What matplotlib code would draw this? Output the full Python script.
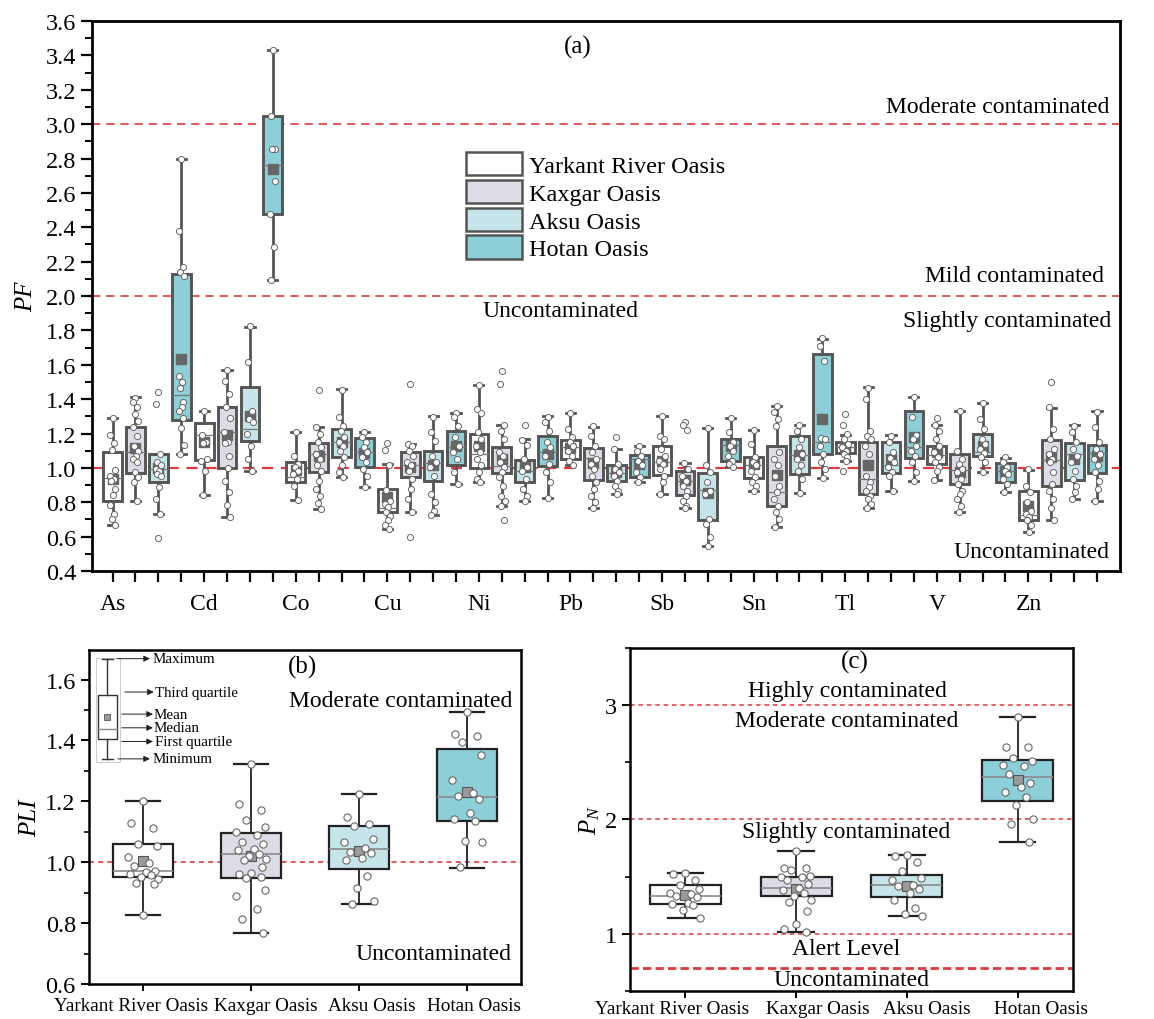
import matplotlib
matplotlib.use("Agg")
import matplotlib.pyplot as plt
import matplotlib.transforms as mtransforms
from matplotlib.patches import Patch, Rectangle
from matplotlib.ticker import MultipleLocator, FormatStrFormatter

plt.rcParams['font.family'] = ['Liberation Serif', 'DejaVu Serif']
plt.rcParams['mathtext.fontset'] = 'custom'
plt.rcParams['mathtext.it'] = 'Liberation Serif:italic'
plt.rcParams['mathtext.rm'] = 'Liberation Serif'

# ---------------- data ----------------
oases = ["Yarkant River Oasis", "Kaxgar Oasis", "Aksu Oasis", "Hotan Oasis"]
colors = ["#ffffff", "#dcdce6", "#c6e5ea", "#8dcfd8"]
elements = ["As", "Cd", "Co", "Cu", "Ni", "Pb", "Sb", "Sn", "Tl", "V", "Zn"]

# PF box statistics (44 boxes: element x oasis, in plotted order)
pf_whi = [1.29, 1.41, 1.08, 2.80, 1.33, 1.57, 1.82, 3.43,
          1.21, 1.24, 1.46, 1.21, 1.02, 1.14, 1.30, 1.32,
          1.48, 1.25, 1.17, 1.30, 1.32, 1.24, 1.11, 1.13,
          1.30, 1.03, 1.23, 1.29, 1.22, 1.36, 1.25, 1.75,
          1.19, 1.47, 1.19, 1.41, 1.25, 1.33, 1.38, 1.06,
          0.99, 1.35, 1.25, 1.33]
pf_q3 = [1.095, 1.24, 1.078, 2.13, 1.26, 1.357, 1.473, 3.05,
         1.037, 1.145, 1.227, 1.173, 0.876, 1.095, 1.10, 1.215,
         1.198, 1.124, 1.047, 1.184, 1.165, 1.114, 1.014, 1.076,
         1.13, 0.981, 0.973, 1.169, 1.062, 1.13, 1.188, 1.663,
         1.153, 1.149, 1.149, 1.33, 1.13, 1.078, 1.198, 1.029,
         0.864, 1.163, 1.145, 1.134]
pf_med = [0.94, 1.091, 0.994, 1.427, 1.19, 1.21, 1.227, 2.764,
          0.946, 1.081, 1.149, 1.095, 0.765, 1.014, 1.029, 1.12,
          1.078, 1.01, 0.984, 1.09, 1.12, 1.056, 0.971, 1.052,
          1.033, 0.926, 0.874, 1.136, 1.017, 0.862, 1.076, 1.149,
          1.12, 0.936, 1.019, 1.12, 1.075, 0.99, 1.09, 0.984,
          0.727, 1.048, 1.078, 1.087]
pf_q1 = [0.806, 0.973, 0.92, 1.279, 1.048, 1.0, 1.159, 2.477,
         0.917, 0.975, 1.062, 1.008, 0.746, 0.946, 0.926, 1.017,
         0.998, 0.971, 0.917, 1.01, 1.052, 0.932, 0.926, 0.946,
         0.959, 0.843, 0.697, 1.039, 0.942, 0.781, 0.965, 1.081,
         1.085, 0.849, 0.969, 1.058, 1.023, 0.907, 1.068, 0.92,
         0.699, 0.897, 0.932, 0.971]
pf_wlo = [0.665, 0.81, 0.729, 1.078, 0.843, 0.713, 0.983, 2.095,
          0.814, 0.761, 0.946, 0.891, 0.645, 0.742, 0.727, 0.907,
          0.92, 0.777, 0.81, 0.824, 1.019, 0.765, 0.849, 0.92,
          0.849, 0.765, 0.548, 1.008, 0.868, 0.659, 0.853, 0.942,
          1.043, 0.765, 0.864, 0.926, 0.932, 0.742, 0.979, 0.862,
          0.626, 0.697, 0.82, 0.806]
pf_mean = [0.936, 1.116, 1.0, 1.634, 1.153, 1.19, 1.30, 2.739,
           0.99, 1.072, 1.153, 1.087, 0.829, 1.004, 1.017, 1.13,
           1.126, 1.052, 1.004, 1.078, 1.114, 1.029, 0.979, 1.023,
           1.039, 0.93, 0.853, 1.126, 1.023, 0.961, 1.076, 1.285,
           1.12, 1.014, 1.052, 1.182, 1.091, 0.975, 1.13, 0.984,
           0.781, 1.062, 1.052, 1.068]

# PF sample points, one list per element (4 oases each)
pts_As = [[1.29, 1.19, 1.145, 1.107, 0.985, 0.955, 0.936, 0.926, 0.88, 0.84, 0.785, 0.73, 0.70, 0.665],
          [1.407, 1.382, 1.353, 1.314, 1.275, 1.237, 1.184, 1.13, 1.101, 1.072, 1.052, 1.033, 0.975, 0.946, 0.917, 0.81],
          [1.44, 1.372, 1.078, 1.033, 1.014, 0.994, 0.984, 0.965, 0.955, 0.888, 0.82, 0.729, 0.593],
          [2.797, 2.378, 2.168, 2.14, 2.116, 1.537, 1.498, 1.465, 1.386, 1.357, 1.33, 1.289, 1.231, 1.134, 1.078]]
pts_Cd = [[1.33, 1.192, 1.153, 1.145, 1.052, 1.043, 0.981, 0.843],
          [1.572, 1.504, 1.429, 1.357, 1.289, 1.211, 1.149, 1.145, 1.072, 1.0, 0.926, 0.862, 0.787, 0.713],
          [1.824, 1.615, 1.333, 1.285, 1.266, 1.198, 1.13, 1.052, 0.983],
          [3.431, 3.049, 2.856, 2.856, 2.668, 2.477, 2.287, 2.095]]
pts_Co = [[1.211, 1.072, 1.023, 1.004, 0.984, 0.965, 0.936, 0.897, 0.814],
          [1.456, 1.24, 1.198, 1.149, 1.12, 1.081, 1.052, 1.017, 0.984, 0.926, 0.878, 0.839, 0.796, 0.761],
          [1.456, 1.295, 1.246, 1.217, 1.178, 1.149, 1.13, 1.101, 1.062, 1.014, 0.979, 0.946],
          [1.207, 1.178, 1.149, 1.12, 1.091, 1.062, 1.033, 0.994, 0.955, 0.891]]
pts_Cu = [[1.143, 1.107, 1.019, 0.87, 0.81, 0.791, 0.77, 0.742, 0.719, 0.694, 0.665, 0.645],
          [1.491, 1.138, 1.13, 1.101, 1.072, 1.033, 1.014, 0.984, 0.936, 0.878, 0.82, 0.742, 0.597],
          [1.299, 1.207, 1.159, 1.072, 1.033, 1.004, 0.955, 0.849, 0.80, 0.752, 0.727],
          [1.32, 1.295, 1.246, 1.178, 1.13, 1.091, 1.052, 0.979, 0.907]]
pts_Ni = [[1.483, 1.343, 1.32, 1.207, 1.169, 1.13, 1.091, 1.052, 1.014, 0.975, 0.936, 0.92],
          [1.562, 1.489, 1.25, 1.217, 1.169, 1.091, 1.072, 1.033, 1.004, 0.975, 0.946, 0.897, 0.839, 0.81, 0.777, 0.698],
          [1.252, 1.165, 1.136, 1.052, 1.004, 0.984, 0.936, 0.878, 0.839, 0.81],
          [1.295, 1.266, 1.217, 1.149, 1.12, 1.072, 1.023, 0.975, 0.917, 0.824]]
pts_Pb = [[1.318, 1.227, 1.178, 1.149, 1.13, 1.101, 1.072, 1.043, 1.019],
          [1.242, 1.188, 1.13, 1.091, 1.052, 1.023, 0.994, 0.955, 0.917, 0.878, 0.839, 0.80, 0.765],
          [1.178, 1.11, 1.023, 0.994, 0.975, 0.955, 0.926, 0.897, 0.868, 0.849],
          [1.13, 1.101, 1.072, 1.043, 1.014, 0.975, 0.946, 0.92]]
pts_Sb = [[1.304, 1.188, 1.169, 1.111, 1.072, 1.043, 1.023, 0.994, 0.955, 0.917, 0.849],
          [1.266, 1.25, 1.221, 1.029, 0.994, 0.955, 0.926, 0.897, 0.868, 0.839, 0.81, 0.781, 0.765],
          [1.233, 1.019, 0.975, 0.917, 0.868, 0.849, 0.703, 0.674, 0.597, 0.548],
          [1.293, 1.207, 1.149, 1.13, 1.101, 1.072, 1.043, 1.023, 1.008]]
pts_Sn = [[1.221, 1.14, 1.062, 1.033, 1.014, 0.984, 0.946, 0.917, 0.893, 0.868],
          [1.363, 1.324, 1.285, 1.246, 1.091, 1.052, 1.014, 0.955, 0.897, 0.858, 0.82, 0.781, 0.742, 0.703, 0.659],
          [1.252, 1.217, 1.169, 1.12, 1.081, 1.052, 1.014, 0.984, 0.936, 0.853],
          [1.754, 1.711, 1.62, 1.173, 1.169, 1.13, 1.081, 1.033, 0.994, 0.942]]
pts_Tl = [[1.314, 1.25, 1.198, 1.169, 1.14, 1.12, 1.101, 1.081, 1.062, 1.043, 0.984],
          [1.465, 1.401, 1.217, 1.188, 1.169, 1.13, 1.081, 0.955, 0.917, 0.888, 0.868, 0.839, 0.82, 0.791, 0.765],
          [1.188, 1.149, 1.091, 1.056, 1.033, 1.004, 0.975, 0.955, 0.864],
          [1.411, 1.295, 1.192, 1.169, 1.13, 1.101, 1.072, 1.033, 0.975, 0.926]]
pts_V = [[1.289, 1.252, 1.217, 1.169, 1.13, 1.091, 1.062, 1.033, 1.004, 0.984, 0.932],
         [1.33, 1.101, 1.052, 1.023, 0.994, 0.975, 0.936, 0.907, 0.868, 0.849, 0.82, 0.781, 0.742],
         [1.376, 1.285, 1.227, 1.169, 1.14, 1.111, 1.087, 1.062, 1.033, 0.979],
         [1.062, 1.033, 1.004, 0.984, 0.965, 0.936, 0.907, 0.862]]
pts_Zn = [[0.994, 0.897, 0.858, 0.80, 0.752, 0.732, 0.713, 0.694, 0.665, 0.626],
          [1.502, 1.353, 1.227, 1.169, 1.111, 1.081, 1.052, 1.033, 0.975, 0.907, 0.868, 0.82, 0.765, 0.697],
          [1.246, 1.207, 1.149, 1.111, 1.072, 1.033, 0.984, 0.936, 0.897, 0.858, 0.82],
          [1.328, 1.237, 1.149, 1.111, 1.081, 1.052, 1.014, 0.975, 0.926, 0.878, 0.806]]
pf_points = [pts_As, pts_Cd, pts_Co, pts_Cu, pts_Ni, pts_Pb, pts_Sb, pts_Sn, pts_Tl, pts_V, pts_Zn]

# PLI (panel b)
pli_whi = [1.202, 1.322, 1.223, 1.492]
pli_q3 = [1.06, 1.097, 1.118, 1.373]
pli_med = [0.971, 1.028, 1.042, 1.214]
pli_q1 = [0.95, 0.947, 0.979, 1.135]
pli_wlo = [0.828, 0.767, 0.863, 0.982]
pli_mean = [1.003, 1.02, 1.037, 1.232]
pli_pts_yarkant = [1.202, 1.128, 1.111, 1.06, 1.054, 1.017, 0.999, 0.987, 0.97, 0.968, 0.962, 0.957, 0.952, 0.945, 0.933, 0.93, 0.828]
pli_pts_kaxgar = [1.322, 1.19, 1.172, 1.14, 1.115, 1.10, 1.09, 1.065, 1.06, 1.045, 1.04, 1.028, 1.02, 1.01, 1.006,
                  0.985, 0.963, 0.962, 0.952, 0.948, 0.908, 0.889, 0.846, 0.812, 0.767]
pli_pts_aksu = [1.223, 1.148, 1.125, 1.12, 1.077, 1.067, 1.047, 1.035, 1.03, 1.015, 1.007, 0.954, 0.914, 0.872, 0.863]
pli_pts_hotan = [1.492, 1.422, 1.415, 1.395, 1.353, 1.27, 1.227, 1.218, 1.208, 1.163, 1.143, 1.134, 1.07, 1.067, 0.985]

# PN (panel c)
pn_whi = [1.532, 1.725, 1.688, 2.90]
pn_q3 = [1.428, 1.50, 1.512, 2.52]
pn_med = [1.327, 1.40, 1.425, 2.373]
pn_q1 = [1.263, 1.327, 1.32, 2.162]
pn_wlo = [1.142, 1.02, 1.159, 1.80]
pn_mean = [1.34, 1.39, 1.42, 2.344]
pn_pts_yarkant = [1.53, 1.52, 1.47, 1.43, 1.39, 1.36, 1.35, 1.33, 1.32, 1.27, 1.26, 1.25, 1.21, 1.14]
pn_pts_kaxgar = [1.725, 1.578, 1.572, 1.557, 1.508, 1.50, 1.495, 1.47, 1.437, 1.399, 1.379, 1.358, 1.332,
                 1.298, 1.28, 1.20, 1.09, 1.046, 1.02]
pn_pts_aksu = [1.688, 1.682, 1.627, 1.549, 1.488, 1.474, 1.428, 1.42, 1.393, 1.358, 1.292, 1.225, 1.17, 1.16]
pn_pts_hotan = [2.90, 2.63, 2.63, 2.54, 2.51, 2.48, 2.47, 2.396, 2.318, 2.28, 2.24, 2.197, 2.13, 2.0, 1.96, 1.80]

# ---------------- figure ----------------
fig = plt.figure(figsize=(11.54, 10.2), dpi=100)
ax_a = fig.add_axes([0.0797, 0.4392, 0.8908, 0.5392])
ax_b = fig.add_axes([0.0771, 0.0343, 0.3744, 0.3275])
ax_c = fig.add_axes([0.5459, 0.0275, 0.3839, 0.3362])

red = "#e0393b"
jit = [0.0, -0.12, 0.10, -0.05, 0.14, -0.15, 0.06, -0.09, 0.12, 0.03, -0.13, 0.08, -0.02, 0.15, -0.07, 0.11]


def make_stats(wlo, q1, med, q3, whi, mean):
    return [dict(whislo=a, q1=b, med=c, q3=d, whishi=e, mean=f, fliers=[])
            for a, b, c, d, e, f in zip(wlo, q1, med, q3, whi, mean)]


# ---------- panel (a) ----------
stats_a = make_stats(pf_wlo, pf_q1, pf_med, pf_q3, pf_whi, pf_mean)
pos_a = list(range(1, len(stats_a) + 1))
edge_a = "#555555"
bp = ax_a.bxp(stats_a, positions=pos_a, widths=0.82, patch_artist=True, showmeans=True,
              showfliers=False, capwidths=0.4,
              boxprops=dict(edgecolor=edge_a, linewidth=2.1),
              whiskerprops=dict(color=edge_a, linewidth=2.0),
              capprops=dict(color=edge_a, linewidth=2.0),
              medianprops=dict(color="#777777", linewidth=0.9),
              meanprops=dict(marker="s", markerfacecolor="#666666", markeredgecolor="#666666",
                             markersize=7.5))
for i, b in enumerate(bp["boxes"]):
    b.set_facecolor(colors[i % 4])
    b.set_zorder(2)

ax_a.axhline(1.0, color=red, ls=(0, (5, 3.5)), lw=1.6, zorder=1.5)
ax_a.axhline(2.0, color=red, ls=(0, (5, 3.5)), lw=1.2, zorder=1)
ax_a.axhline(3.0, color=red, ls=(0, (5, 3.5)), lw=1.2, zorder=1)

for e_idx, el_pts in enumerate(pf_points):
    for o_idx, vals in enumerate(el_pts):
        p = pos_a[e_idx * 4 + o_idx]
        xs = [p + jit[j % len(jit)] * 0.8 for j in range(len(vals))]
        ax_a.plot(xs, vals, ls="none", marker="o", markersize=4.4, markerfacecolor="white",
                  markeredgecolor="#666666", markeredgewidth=0.7, zorder=4)

ax_a.set_xlim(0.1, 45.0)
ax_a.set_ylim(0.4, 3.6)
xlabels = []
for el in elements:
    xlabels += [el, "", "", ""]
ax_a.set_xticks(pos_a)
ax_a.set_xticklabels(xlabels, fontsize=17)
ax_a.yaxis.set_major_locator(MultipleLocator(0.2))
ax_a.yaxis.set_minor_locator(MultipleLocator(0.1))
ax_a.yaxis.set_major_formatter(FormatStrFormatter("%.1f"))
ax_a.tick_params(axis="y", which="major", labelsize=17.5, length=8, width=1.6, direction="out")
ax_a.tick_params(axis="y", which="minor", length=5, width=1.4, direction="out")
ax_a.tick_params(axis="x", which="major", length=8, width=1.6, direction="out", pad=8)
for s in ax_a.spines.values():
    s.set_linewidth(2.0)
ax_a.set_ylabel("PF", fontsize=18, fontstyle="italic", labelpad=6)

ta = mtransforms.blended_transform_factory(ax_a.transAxes, ax_a.transData)
ax_a.text(0.473, 3.455, "(a)", transform=ta, ha="center", va="center", fontsize=18)
ax_a.text(0.990, 3.105, "Moderate contaminated", transform=ta, ha="right", va="center", fontsize=17)
ax_a.text(0.984, 2.117, "Mild contaminated", transform=ta, ha="right", va="center", fontsize=17)
ax_a.text(0.456, 1.913, "Uncontaminated", transform=ta, ha="center", va="center", fontsize=17)
ax_a.text(0.992, 1.855, "Slightly contaminated", transform=ta, ha="right", va="center", fontsize=17)
ax_a.text(0.990, 0.511, "Uncontaminated", transform=ta, ha="right", va="center", fontsize=17)

handles = [Patch(facecolor=c, edgecolor="#555555", linewidth=1.8) for c in colors]
ax_a.legend(handles, oases, loc="upper left", bbox_to_anchor=(0.364, 0.762), frameon=False,
            fontsize=17.5, handlelength=2.3, handleheight=1.1, labelspacing=0.12,
            handletextpad=0.3, borderpad=0, borderaxespad=0)


# ---------- panel (b) & (c) helper ----------
def small_panel(ax, wlo, q1, med, q3, whi, mean, pts, width, label_shift_px, label_drop_in):
    st = make_stats(wlo, q1, med, q3, whi, mean)
    pos = list(range(1, len(st) + 1))
    bpx = ax.bxp(st, positions=pos, widths=width, patch_artist=True, showmeans=True,
                 showfliers=False, capwidths=0.32,
                 boxprops=dict(edgecolor="#222222", linewidth=1.6),
                 whiskerprops=dict(color="#222222", linewidth=1.3),
                 capprops=dict(color="#222222", linewidth=1.6),
                 medianprops=dict(color="#8a8a8a", linewidth=1.2),
                 meanprops=dict(marker="s", markerfacecolor="#9a9a9a", markeredgecolor="#555555",
                                markersize=7.5, markeredgewidth=0.8))
    for i, b in enumerate(bpx["boxes"]):
        b.set_facecolor(colors[i % 4])
        b.set_zorder(2)
    for i, vals in enumerate(pts):
        xs = [pos[i] + jit[j % len(jit)] * 0.9 for j in range(len(vals))]
        ax.plot(xs, vals, ls="none", marker="o", markersize=5.2, markerfacecolor="white",
                markeredgecolor="#666666", markeredgewidth=0.8, zorder=4)
    ax.set_xlim(0.5, 4.5)
    ax.set_xticks(pos)
    ax.set_xticklabels([""] * len(pos))
    base = mtransforms.blended_transform_factory(ax.transData, ax.transAxes)
    for p, name, dx in zip(pos, oases, label_shift_px):
        tr = base + mtransforms.ScaledTranslation(dx / 100.0, -label_drop_in, fig.dpi_scale_trans)
        ax.text(p, 0.0, name, transform=tr, ha="center", va="top", fontsize=13.8, clip_on=False)
    ax.tick_params(axis="x", length=5, width=1.4, direction="out", pad=2)
    for s in ax.spines.values():
        s.set_linewidth(1.8)


# ---------- panel (b) ----------
small_panel(ax_b, pli_wlo, pli_q1, pli_med, pli_q3, pli_whi, pli_mean,
            [pli_pts_yarkant, pli_pts_kaxgar, pli_pts_aksu, pli_pts_hotan], 0.56,
            [-12, 15, 13, 7], 0.13)
ax_b.axhline(1.0, color=red, ls=(0, (3, 2.5)), lw=1.2, zorder=1)
ax_b.set_ylim(0.6, 1.697)
ax_b.yaxis.set_major_locator(MultipleLocator(0.2))
ax_b.yaxis.set_minor_locator(MultipleLocator(0.1))
ax_b.yaxis.set_major_formatter(FormatStrFormatter("%.1f"))
ax_b.tick_params(axis="y", which="major", labelsize=17.5, length=6, width=1.4)
ax_b.tick_params(axis="y", which="minor", length=3.5, width=1.2)
ax_b.set_ylabel("PLI", fontsize=18, fontstyle="italic", labelpad=3)

tb = mtransforms.blended_transform_factory(ax_b.transAxes, ax_b.transData)
ax_b.text(0.495, 1.642, "(b)", transform=tb, ha="center", va="center", fontsize=18)
ax_b.text(0.979, 1.532, "Moderate contaminated", transform=tb, ha="right", va="center", fontsize=17)
ax_b.text(0.979, 0.70, "Uncontaminated", transform=tb, ha="right", va="center", fontsize=17)

# inset key for box elements
T = ax_b.transAxes
ax_b.add_patch(Rectangle((0.0162, 0.665), 0.0556, 0.311, transform=T, fill=False,
                         edgecolor="#cccccc", linewidth=0.8, zorder=5))
ax_b.add_patch(Rectangle((0.0208, 0.732), 0.044, 0.133, transform=T, facecolor="white",
                         edgecolor="#333333", linewidth=1.0, zorder=6))
ax_b.plot([0.0428, 0.0428], [0.865, 0.974], transform=T, color="#333333", lw=1.0, zorder=6)
ax_b.plot([0.0428, 0.0428], [0.674, 0.732], transform=T, color="#333333", lw=1.0, zorder=6)
ax_b.plot([0.030, 0.0556], [0.974, 0.974], transform=T, color="#333333", lw=1.0, zorder=6)
ax_b.plot([0.030, 0.0556], [0.674, 0.674], transform=T, color="#333333", lw=1.0, zorder=6)
ax_b.plot([0.0208, 0.0648], [0.762, 0.762], transform=T, color="#888888", lw=1.0, zorder=7)
ax_b.plot([0.0428], [0.80], transform=T, marker="s", markersize=4.5, markerfacecolor="#999999",
          markeredgecolor="#555555", markeredgewidth=0.6, zorder=7)
key_items = [("Maximum", 0.0648, 0.141, 0.974, 0.146),
             ("Third quartile", 0.083, 0.150, 0.874, 0.152),
             ("Mean", 0.076, 0.148, 0.808, 0.150),
             ("Median", 0.076, 0.148, 0.767, 0.150),
             ("First quartile", 0.076, 0.148, 0.726, 0.153),
             ("Minimum", 0.067, 0.141, 0.674, 0.146)]
for lab, x0, x1, yy, xt in key_items:
    ax_b.annotate("", xy=(x1, yy), xytext=(x0, yy), xycoords=T, textcoords=T,
                  arrowprops=dict(arrowstyle="-|>", color="#222222", lw=0.7, mutation_scale=9,
                                  shrinkA=0, shrinkB=0), zorder=7)
    ax_b.text(xt, yy, lab, transform=T, ha="left", va="center", fontsize=10.8, zorder=7)

# ---------- panel (c) ----------
small_panel(ax_c, pn_wlo, pn_q1, pn_med, pn_q3, pn_whi, pn_mean,
            [pn_pts_yarkant, pn_pts_kaxgar, pn_pts_aksu, pn_pts_hotan], 0.64,
            [-13, 22, 20, 23], 0.09)
for yv in (1.0, 2.0, 3.0):
    ax_c.axhline(yv, color=red, ls=(0, (3, 2.5)), lw=1.1, zorder=1)
ax_c.axhline(0.7, color=red, ls=(0, (3, 1.5)), lw=2.0, zorder=1)
ax_c.set_ylim(0.5, 3.5)
ax_c.yaxis.set_major_locator(MultipleLocator(1.0))
ax_c.yaxis.set_minor_locator(MultipleLocator(0.5))
ax_c.yaxis.set_major_formatter(FormatStrFormatter("%d"))
ax_c.tick_params(axis="y", which="major", labelsize=17.5, length=6, width=1.4)
ax_c.tick_params(axis="y", which="minor", length=3.5, width=1.2)
ax_c.set_ylabel("$P_N$", fontsize=18, labelpad=2)

tc = mtransforms.blended_transform_factory(ax_c.transAxes, ax_c.transData)
ax_c.text(0.508, 3.38, "(c)", transform=tc, ha="center", va="center", fontsize=18)
ax_c.text(0.49, 3.13, "Highly contaminated", transform=tc, ha="center", va="center", fontsize=17)
ax_c.text(0.49, 2.87, "Moderate contaminated", transform=tc, ha="center", va="center", fontsize=17)
ax_c.text(0.489, 1.896, "Slightly contaminated", transform=tc, ha="center", va="center", fontsize=17)
ax_c.text(0.489, 0.87, "Alert Level", transform=tc, ha="center", va="center", fontsize=17)
ax_c.text(0.499, 0.60, "Uncontaminated", transform=tc, ha="center", va="center", fontsize=17)

fig.savefig("out.png", dpi=100)
